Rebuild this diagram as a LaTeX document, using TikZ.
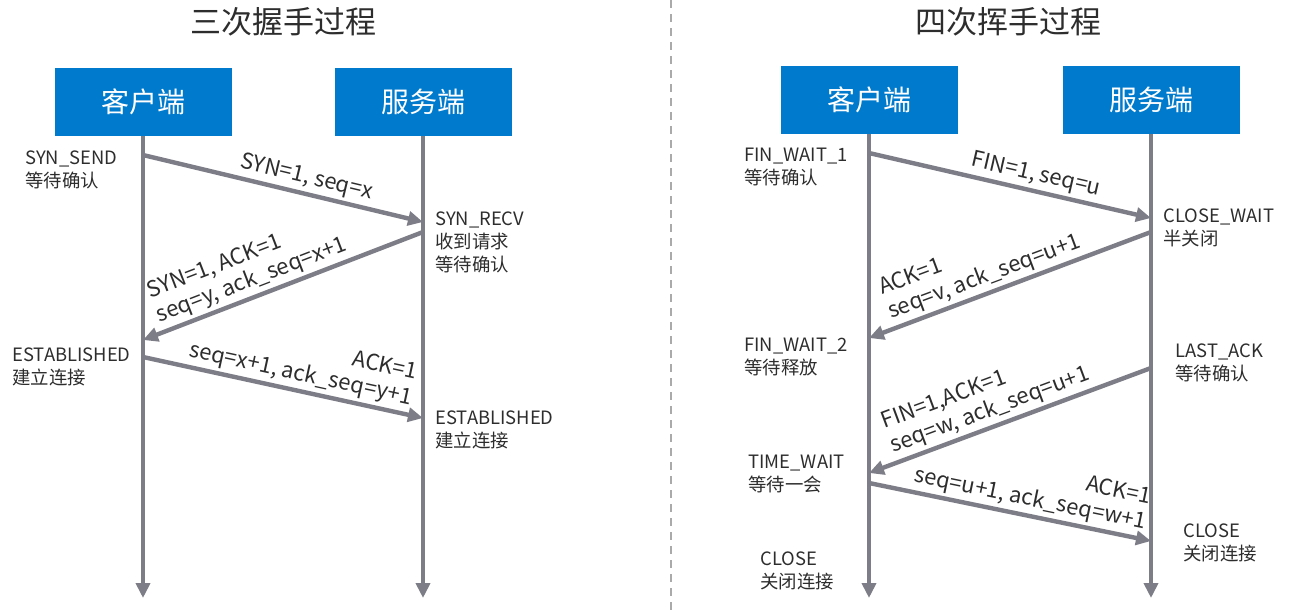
\documentclass[tikz,border=0pt]{standalone}
\usepackage{fontspec}
\setmainfont{Noto Sans CJK SC}
\usetikzlibrary{arrows.meta}
\definecolor{LaneBlue}{RGB}{0, 122, 204}
\definecolor{LineGray}{RGB}{125, 125, 135}
\definecolor{TextDark}{RGB}{45, 45, 45}
\definecolor{SepGray}{RGB}{170, 170, 170}

\begin{document}
\begin{tikzpicture}[
  x=0.5pt, y=-0.5pt,
  every node/.style={text=TextDark},
  title/.style={font=\fontsize{15.5}{18}\selectfont},
  lane/.style={fill=LaneBlue, text=white, inner sep=0pt,
               minimum width=88.5pt, minimum height=34pt,
               font=\fontsize{14}{16}\selectfont},
  life/.style={draw=LineGray, line width=2.2pt, -{Triangle[length=7.5pt, width=7pt]}},
  msg/.style={draw=LineGray, line width=2.2pt, -{Triangle[length=7.5pt, width=7pt]}},
  lbl/.style={font=\fontsize{11}{12.8}\selectfont, sloped, above, inner sep=1.5pt},
  state/.style={anchor=north west, align=left, inner sep=0pt,
                font=\fontsize{9.2}{11.5}\selectfont}
]
  \useasboundingbox (0,0) rectangle (1297,611);

  %% Divider
  \coordinate (divTop) at (671,0);
  \coordinate (divBot) at (671,611);
  \draw[SepGray, line width=0.6pt, dash pattern=on 4pt off 3pt] (divTop) -- (divBot);

  %% Titles
  \node[title] (t3) at (283,22)  {三次握手过程};
  \node[title] (t4) at (1008,22) {四次挥手过程};

  %% Lanes
  \node[lane] (lc) at (143,102)  {客户端};
  \node[lane] (ls) at (423,102)  {服务端};
  \node[lane] (rc) at (869,100)  {客户端};
  \node[lane] (rs) at (1151,100) {服务端};

  \coordinate (lcEnd) at (143,598);
  \coordinate (lsEnd) at (423,598);
  \coordinate (rcEnd) at (869,598);
  \coordinate (rsEnd) at (1151,598);

  \draw[life] (lc) -- (lcEnd);
  \draw[life] (ls) -- (lsEnd);
  \draw[life] (rc) -- (rcEnd);
  \draw[life] (rs) -- (rsEnd);

  %% Handshake points
  \coordinate (hc1) at (143,155);
  \coordinate (hs1) at (423,222);
  \coordinate (hs2) at (423,232);
  \coordinate (hc2) at (143,340);
  \coordinate (hc3) at (143,357);
  \coordinate (hs3) at (423,418);

  \draw[msg] (hc1) -- node[lbl, pos=0.57] {SYN=1, seq=x} (hs1);
  \draw[msg] (hs2) -- node[lbl, pos=0.59, align=left] {SYN=1, ACK=1\\seq=y, ack\_seq=x+1} (hc2);
  \draw[msg] (hc3) -- node[lbl, pos=0.55, align=right] {ACK=1\\seq=x+1, ack\_seq=y+1} (hs3);

  %% Wave points
  \coordinate (wc1) at (869,153);
  \coordinate (ws1) at (1151,218);
  \coordinate (ws2) at (1151,232);
  \coordinate (wc2) at (869,338);
  \coordinate (ws3) at (1151,368);
  \coordinate (wc3) at (869,473);
  \coordinate (wc4) at (869,483);
  \coordinate (ws4) at (1151,541);

  \draw[msg] (wc1) -- node[lbl, pos=0.58] {FIN=1, seq=u} (ws1);
  \draw[msg] (ws2) -- node[lbl, pos=0.57, align=left] {ACK=1\\seq=v, ack\_seq=u+1} (wc2);
  \draw[msg] (ws3) -- node[lbl, pos=0.55, align=left] {FIN=1,ACK=1\\seq=w, ack\_seq=u+1} (wc3);
  \draw[msg] (wc4) -- node[lbl, pos=0.56, align=right] {ACK=1\\seq=u+1, ack\_seq=w+1} (ws4);

  %% States
  \node[state] (sSend)  at (25,150)   {SYN\_SEND\\等待确认};
  \node[state] (sRecv)  at (435,211)  {SYN\_RECV\\收到请求\\等待确认};
  \node[state] (sEstC)  at (12,347)   {ESTABLISHED\\建立连接};
  \node[state] (sEstS)  at (435,410)  {ESTABLISHED\\建立连接};

  \node[state] (sFw1)   at (744,148)  {FIN\_WAIT\_1\\等待确认};
  \node[state] (sCw)    at (1163,208) {CLOSE\_WAIT\\半关闭};
  \node[state] (sFw2)   at (744,338)  {FIN\_WAIT\_2\\等待释放};
  \node[state] (sLack)  at (1175,343) {LAST\_ACK\\等待确认};
  \node[state] (sTw)    at (748,455)  {TIME\_WAIT\\等待一会};
  \node[state] (sClS)   at (1183,523) {CLOSE\\关闭连接};
  \node[state] (sClC)   at (760,551)  {CLOSE\\关闭连接};
\end{tikzpicture}
\end{document}
